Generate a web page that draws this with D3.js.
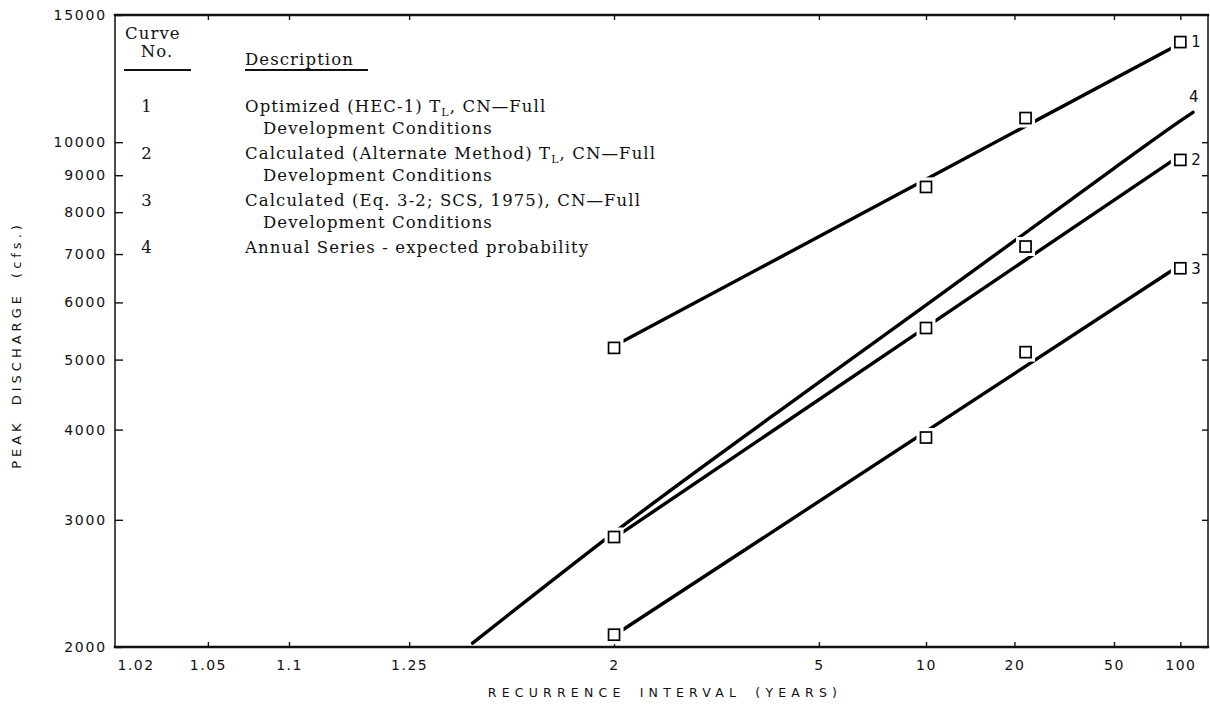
<!DOCTYPE html>
<html>
<head>
<meta charset="utf-8">
<script src="https://cdn.jsdelivr.net/npm/d3@7"></script>
<style>
  html, body { margin: 0; padding: 0; background: #fff; }
  svg { display: block; }
  .tick-label { font-family: "DejaVu Sans", sans-serif; fill: #111; }
  .legend { font-family: "DejaVu Serif", serif; fill: #111; }
</style>
</head>
<body>
<svg id="chart" width="1210" height="712"></svg>
<script>
// Recurrence intervals (years) marked on the probability axis
const xTickValues = [1.02, 1.05, 1.1, 1.25, 2, 5, 10, 20, 50, 100];
const xTickLabels = ["1.02", "1.05", "1.1", "1.25", "2", "5", "10", "20", "50", "100"];

// Peak discharge ticks (cfs)
const yTickValues = [2000, 3000, 4000, 5000, 6000, 7000, 8000, 9000, 10000, 15000];

// Computed peaks (squares) for curves 1-3
const pointT = [2, 10, 22, 100];
const curve1Points = [5190, 8670, 10800, 13760];
const curve2Points = [2840, 5530, 7170, 9450];
const curve3Points = [2080, 3900, 5120, 6690];

// Fitted frequency lines for curves 1-3 (end values at T = 2 and T = 100)
const fitT = [2, 100];
const curve1Fit = [5220, 13700];
const curve2Fit = [2830, 9590];
const curve3Fit = [2075, 6760];

// Curve 4: annual series, expected probability
const curve4T = [1.39, 1.5, 2, 5, 10, 20, 50, 100, 115];
const curve4Q = [2025, 2220, 2880, 4650, 5950, 7300, 9200, 10700, 11000];

// Legend rows: curve number and description lines ("{L}" = subscript L)
const legendIds = ["1", "2", "3", "4"];
const legendText = [
  ["Optimized (HEC-1) T{L}, CN\u2014Full", "Development Conditions"],
  ["Calculated (Alternate Method) T{L}, CN\u2014Full", "Development Conditions"],
  ["Calculated (Eq. 3-2; SCS, 1975), CN\u2014Full", "Development Conditions"],
  ["Annual Series - expected probability"]
];

// Inverse standard normal CDF (Acklam's rational approximation)
function normInv(p) {
  const a = [-3.969683028665376e+01, 2.209460984245205e+02, -2.759285104469687e+02,
             1.383577518672690e+02, -3.066479806614716e+01, 2.506628277459239e+00];
  const b = [-5.447609879822406e+01, 1.615858368580409e+02, -1.556989798598866e+02,
             6.680131188771972e+01, -1.328068155288572e+01];
  const c = [-7.784894002430293e-03, -3.223964580411365e-01, -2.400758277161838e+00,
             -2.549732539343734e+00, 4.374664141464968e+00, 2.938163982698783e+00];
  const d = [7.784695709041462e-03, 3.224671290700398e-01, 2.445134137142996e+00,
             3.754408661907416e+00];
  const pl = 0.02425, ph = 1 - pl;
  let q, r;
  if (p < pl) {
    q = Math.sqrt(-2 * Math.log(p));
    return (((((c[0]*q+c[1])*q+c[2])*q+c[3])*q+c[4])*q+c[5]) / ((((d[0]*q+d[1])*q+d[2])*q+d[3])*q+1);
  }
  if (p <= ph) {
    q = p - 0.5; r = q * q;
    return (((((a[0]*r+a[1])*r+a[2])*r+a[3])*r+a[4])*r+a[5])*q / (((((b[0]*r+b[1])*r+b[2])*r+b[3])*r+b[4])*r+1);
  }
  q = Math.sqrt(-2 * Math.log(1 - p));
  return -(((((c[0]*q+c[1])*q+c[2])*q+c[3])*q+c[4])*q+c[5]) / ((((d[0]*q+d[1])*q+d[2])*q+d[3])*q+1);
}
// Standard normal variate of the non-exceedance probability for interval T
const zOf = T => normInv(1 - 1 / T);

const width = 1210, height = 712;
const margin = { top: 15, right: 2, bottom: 65, left: 115 };
const svg = d3.select("#chart");
svg.append("rect").attr("width", width).attr("height", height).attr("fill", "#fff");

// Normal-probability x scale, log y scale
const xz = d3.scaleLinear().domain([-2.05, 2.44]).range([margin.left, width - margin.right]);
const x = T => xz(zOf(T));
const y = d3.scaleLog().domain([2000, 15000]).range([height - margin.bottom, margin.top]);

const plotL = margin.left, plotR = width - margin.right;
const plotT = margin.top, plotB = height - margin.bottom;

// Axes with inward ticks
const gLeft = svg.append("g").attr("transform", `translate(${plotL},0)`)
  .call(d3.axisLeft(y).tickValues(yTickValues).tickFormat(d3.format("d")).tickSize(-8).tickPadding(8));
const gRight = svg.append("g").attr("transform", `translate(${plotR},0)`)
  .call(d3.axisRight(y).tickValues(yTickValues.slice(0, -1)).tickFormat("").tickSize(-6));
const zTicks = xTickValues.map(zOf);
const gBottom = svg.append("g").attr("transform", `translate(0,${plotB})`)
  .call(d3.axisBottom(xz).tickValues(zTicks).tickFormat((d, i) => xTickLabels[i]).tickSize(-5).tickPadding(13));
const gTop = svg.append("g").attr("transform", `translate(0,${plotT})`)
  .call(d3.axisTop(xz).tickValues(zTicks.slice(1)).tickFormat("").tickSize(-5));

[gLeft, gRight, gBottom, gTop].forEach(g => {
  g.select(".domain").remove();
  g.selectAll(".tick line").attr("stroke", "#111").attr("stroke-width", 1.4);
  g.selectAll(".tick text").attr("class", "tick-label").attr("fill", "#111");
});
gLeft.selectAll(".tick text").style("font-size", "14px").style("letter-spacing", "1.8px");
gBottom.selectAll(".tick text").style("font-size", "14px").style("letter-spacing", "1.5px");
// The 1.02 tick sits on the left border: hide its mark, set its label just inside
const firstTick = gBottom.select(".tick");
firstTick.select("line").remove();
firstTick.select("text").attr("text-anchor", "start").attr("x", plotL - xz(zTicks[0]) + 2);

// Frame
const frame = svg.append("g").attr("stroke", "#111").attr("stroke-linecap", "square");
frame.append("line").attr("x1", plotL).attr("x2", plotR).attr("y1", plotT).attr("y2", plotT).attr("stroke-width", 2.4);
frame.append("line").attr("x1", plotL).attr("x2", plotR).attr("y1", plotB).attr("y2", plotB).attr("stroke-width", 2.4);
frame.append("line").attr("x1", plotL).attr("x2", plotL).attr("y1", plotT).attr("y2", plotB).attr("stroke-width", 1.5);
frame.append("line").attr("x1", plotR).attr("x2", plotR).attr("y1", plotT).attr("y2", plotB).attr("stroke-width", 1.5);

// Axis titles
svg.append("text")
  .attr("x", 665).attr("y", 697)
  .attr("text-anchor", "middle")
  .style("font-family", "DejaVu Sans, sans-serif").style("font-size", "12.5px")
  .style("letter-spacing", "5.2px").style("word-spacing", "5px").attr("fill", "#111")
  .text("RECURRENCE INTERVAL (YEARS)");
svg.append("text")
  .attr("transform", "translate(21,345) rotate(-90)")
  .attr("text-anchor", "middle")
  .style("font-family", "DejaVu Sans, sans-serif").style("font-size", "13px")
  .style("letter-spacing", "4px").style("word-spacing", "6px").attr("fill", "#111")
  .text("PEAK DISCHARGE (cfs.)");

// Lines
const line = d3.line().x(d => x(d[0])).y(d => y(d[1]));
const smooth = d3.line().x(d => x(d[0])).y(d => y(d[1])).curve(d3.curveMonotoneX);
const lines = svg.append("g").attr("fill", "none").attr("stroke", "#000")
  .attr("stroke-width", 3.4).attr("stroke-linecap", "round");
[curve1Fit, curve2Fit, curve3Fit].forEach(fit => {
  lines.append("path").attr("d", line(fitT.map((t, i) => [t, fit[i]])));
});
lines.append("path").attr("d", smooth(curve4T.map((t, i) => [t, curve4Q[i]])));

// Computed points: open squares with a white clearance around them
const sq = 11, halo = 4;
const squares = svg.append("g");
[curve1Points, curve2Points, curve3Points].forEach(pts => {
  pts.forEach((q, i) => {
    const cx = x(pointT[i]), cy = y(q);
    squares.append("rect")
      .attr("x", cx - sq / 2 - halo).attr("y", cy - sq / 2 - halo)
      .attr("width", sq + 2 * halo).attr("height", sq + 2 * halo)
      .attr("fill", "#fff");
  });
});
[curve1Points, curve2Points, curve3Points].forEach(pts => {
  pts.forEach((q, i) => {
    const cx = x(pointT[i]), cy = y(q);
    squares.append("rect")
      .attr("x", cx - sq / 2).attr("y", cy - sq / 2)
      .attr("width", sq).attr("height", sq)
      .attr("fill", "#fff").attr("stroke", "#000").attr("stroke-width", 1.7);
  });
});

// Curve numbers at the line ends
const endLabels = svg.append("g").style("font-family", "DejaVu Sans, sans-serif")
  .style("font-size", "15px").attr("fill", "#111");
[[curve1Points, "1"], [curve2Points, "2"], [curve3Points, "3"]].forEach(([pts, id]) => {
  const last = pts.length - 1;
  endLabels.append("text")
    .attr("x", x(pointT[last]) + 11).attr("y", y(pts[last]))
    .attr("dy", "0.36em").text(id);
});
endLabels.append("text")
  .attr("x", x(curve4T[curve4T.length - 1]) - 4)
  .attr("y", y(curve4Q[curve4Q.length - 1]) - 10)
  .text("4");

// Legend
const legend = svg.append("g").attr("class", "legend").style("font-size", "16.5px")
  .style("letter-spacing", "1.1px");
legend.append("text").attr("x", 125).attr("y", 39).text("Curve");
legend.append("text").attr("x", 157).attr("y", 57).attr("text-anchor", "middle").text("No.");
legend.append("text").attr("x", 245).attr("y", 65).text("Description");
legend.append("line").attr("x1", 124).attr("x2", 191).attr("y1", 70).attr("y2", 70)
  .attr("stroke", "#111").attr("stroke-width", 2);
legend.append("line").attr("x1", 245).attr("x2", 368).attr("y1", 70).attr("y2", 70)
  .attr("stroke", "#111").attr("stroke-width", 2);

legendIds.forEach((id, i) => {
  const base = 112 + i * 47;
  legend.append("text").attr("x", 147).attr("y", base).attr("text-anchor", "middle").text(id);
  legendText[i].forEach((txt, j) => {
    const t = legend.append("text").attr("x", j === 0 ? 245 : 263).attr("y", base + j * 22);
    const parts = txt.split("{L}");
    parts.forEach((part, k) => {
      if (k > 0) {
        t.append("tspan").attr("dy", 4).style("font-size", "11px").text("L");
        t.append("tspan").attr("dy", -4).text(part);
      } else {
        t.append("tspan").text(part);
      }
    });
  });
});
</script>
</body>
</html>
